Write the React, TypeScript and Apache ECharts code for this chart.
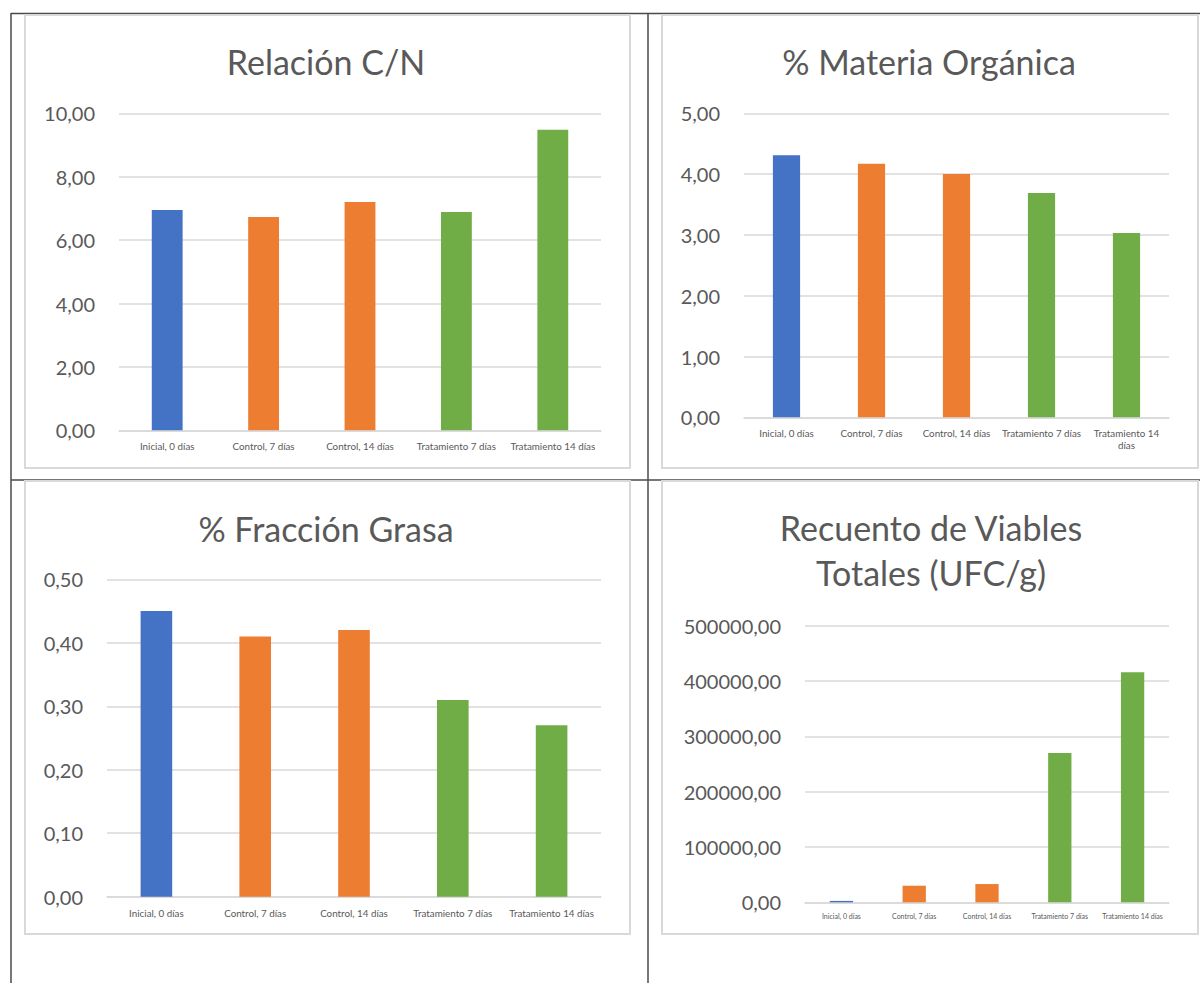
import React, { useEffect, useRef } from "react";
import * as echarts from "echarts";

const categories = ["Inicial, 0 días", "Control, 7 días", "Control, 14 días", "Tratamiento 7 días", "Tratamiento 14 días"];
const barColors = ["#4472C4", "#ED7D31", "#ED7D31", "#70AD47", "#70AD47"];

const cnValues = [6.95, 6.73, 7.2, 6.89, 9.48];
const moValues = [4.31, 4.17, 4.0, 3.69, 3.03];
const grasaValues = [0.45, 0.41, 0.42, 0.31, 0.27];
const viablesValues = [2500, 30000, 33000, 270000, 416000];

const titles = ["Relación C/N", "% Materia Orgánica", "% Fracción Grasa", "Recuento de Viables\nTotales (UFC/g)"];

const FONT = "Lato, 'Open Sans', sans-serif";
const TEXT = "#595959";
const GRID = "#D9D9D9";

export default function App() {
  const ref = useRef<HTMLDivElement>(null);
  useEffect(() => {
    if (!ref.current) return;
    const chart = echarts.init(ref.current, null, { renderer: "svg" });

    const grids = [
      { left: 119, top: 113.3, width: 482, height: 317 },
      { left: 744, top: 113.3, width: 425, height: 304 },
      { left: 107, top: 579.3, width: 494, height: 317.4 },
      { left: 805, top: 625.7, width: 364, height: 276.6 },
    ];
    const yCfg = [
      { max: 10, interval: 2 },
      { max: 5, interval: 1 },
      { max: 0.5, interval: 0.1 },
      { max: 500000, interval: 100000 },
    ];
    const xFont = [9.8, 9.8, 9.8, 7];
    const xMargin = [10, 10, 10, 8];
    const data = [cnValues, moValues, grasaValues, viablesValues];

    const fmtLabel = (i: number) => (v: string) =>
      i === 1 && v === "Tratamiento 14 días" ? "Tratamiento 14\ndías" : v;

    const dark = { stroke: "#4a4a4a", lineWidth: 1.5 };
    const boxStyle = { fill: "#fff", stroke: GRID, lineWidth: 2 };
    const titleFont = `34px ${FONT}`;

    const option: any = {
      animation: false,
      backgroundColor: "#fff",
      textStyle: { fontFamily: FONT },
      grid: grids.map((g) => ({ ...g, outerBoundsMode: "none", containLabel: false })),
      xAxis: grids.map((_, i) => ({
        type: "category",
        gridIndex: i,
        data: categories,
        axisTick: { show: false },
        axisLine: { show: true, lineStyle: { color: GRID, width: 1.5 } },
        axisLabel: {
          color: TEXT,
          fontSize: xFont[i],
          fontFamily: FONT,
          margin: xMargin[i],
          interval: 0,
          lineHeight: 12,
          formatter: fmtLabel(i),
        },
      })),
      yAxis: grids.map((_, i) => ({
        type: "value",
        gridIndex: i,
        min: 0,
        max: yCfg[i].max,
        interval: yCfg[i].interval,
        axisLine: { show: false },
        axisTick: { show: false },
        splitLine: { lineStyle: { color: GRID, width: 1.5 } },
        axisLabel: {
          color: TEXT,
          fontSize: 20,
          fontFamily: FONT,
          margin: 24,
          formatter: (v: number) => v.toFixed(2).replace(".", ","),
        },
      })),
      series: data.map((vals, i) => ({
        type: "bar",
        xAxisIndex: i,
        yAxisIndex: i,
        barWidth: "32%",
        data: vals.map((v, j) => ({ value: v, itemStyle: { color: barColors[j] } })),
      })),
      graphic: [
        { type: "line", z: -10, shape: { x1: 11, y1: 13.5, x2: 1200, y2: 13.5 }, style: dark, silent: true },
        { type: "line", z: -10, shape: { x1: 11, y1: 480, x2: 1200, y2: 480 }, style: dark, silent: true },
        { type: "line", z: -10, shape: { x1: 11, y1: 13, x2: 11, y2: 983 }, style: dark, silent: true },
        { type: "line", z: -10, shape: { x1: 648, y1: 13, x2: 648, y2: 983 }, style: dark, silent: true },
        { type: "rect", z: -9, shape: { x: 25, y: 15, width: 605, height: 453 }, style: boxStyle, silent: true },
        { type: "rect", z: -9, shape: { x: 662, y: 15, width: 536, height: 453 }, style: boxStyle, silent: true },
        { type: "rect", z: -9, shape: { x: 25, y: 481, width: 605, height: 453 }, style: boxStyle, silent: true },
        { type: "rect", z: -9, shape: { x: 662, y: 481, width: 536, height: 453 }, style: boxStyle, silent: true },
        {
          type: "text", x: 326, y: 61,
          style: { text: titles[0], fill: TEXT, font: titleFont, textAlign: "center", textVerticalAlign: "middle" },
        },
        {
          type: "text", x: 929, y: 61,
          style: { text: titles[1], fill: TEXT, font: titleFont, textAlign: "center", textVerticalAlign: "middle" },
        },
        {
          type: "text", x: 326, y: 528,
          style: { text: titles[2], fill: TEXT, font: titleFont, textAlign: "center", textVerticalAlign: "middle" },
        },
        {
          type: "text", x: 931, y: 550,
          style: {
            text: titles[3], fill: TEXT, font: titleFont, lineHeight: 45,
            textAlign: "center", textVerticalAlign: "middle",
          },
        },
      ],
    };
    chart.setOption(option);
    return () => chart.dispose();
  }, []);

  return <div ref={ref} style={{ position: "fixed", left: 0, top: 0, width: 1200, height: 983 }} />;
}
